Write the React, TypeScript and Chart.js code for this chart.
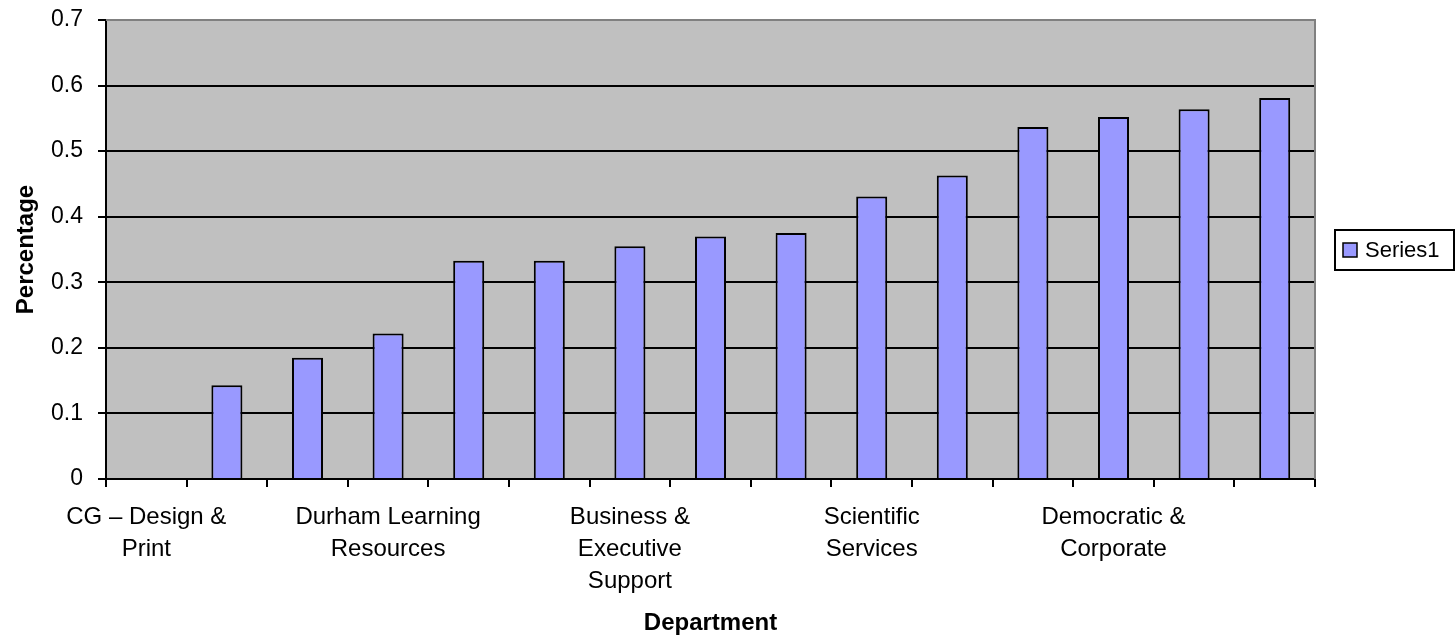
import { useEffect, useRef } from "react";
import { Chart, registerables } from "chart.js";

Chart.register(...registerables);

// Department labels (Excel shows only every third one; the rest stay blank)
const departments: (string | string[])[] = [
  ["CG – Design &", "Print"],
  "",
  "",
  ["Durham Learning", "Resources"],
  "",
  "",
  ["Business &", "Executive", "Support"],
  "",
  "",
  ["Scientific", "Services"],
  "",
  "",
  ["Democratic &", "Corporate"],
  "",
  "",
];

// Percentage per department
const percentages = [
  0, 0.143, 0.185, 0.222, 0.333, 0.333, 0.355, 0.37, 0.375, 0.431, 0.463,
  0.537, 0.552, 0.564, 0.581,
];

const seriesName = "Series1";
const yMin = 0;
const yMax = 0.7;
const yStep = 0.1;

const FONT = "'Liberation Sans', Arial, Helvetica, sans-serif";
const PLOT_BG = "#c0c0c0";
const PLOT_EDGE = "#808080";
const BAR_FILL = "#9999ff";

// Grey plot area, grey top/right edge and a boxed legend at the right
const excelFrame = {
  id: "excelFrame",
  beforeDraw(chart: Chart) {
    const { ctx, chartArea: a } = chart;
    ctx.save();
    ctx.fillStyle = PLOT_BG;
    ctx.fillRect(a.left, a.top, a.right - a.left, a.bottom - a.top);
    ctx.restore();
  },
  afterDraw(chart: Chart) {
    const { ctx, chartArea: a } = chart;
    ctx.save();
    ctx.strokeStyle = PLOT_EDGE;
    ctx.lineWidth = 2;
    ctx.beginPath();
    ctx.moveTo(a.left, a.top);
    ctx.lineTo(a.right, a.top);
    ctx.lineTo(a.right, a.bottom);
    ctx.stroke();

    // legend
    const ds = chart.data.datasets[0];
    const bx = a.right + 20;
    const bw = chart.width - bx - 2;
    const bh = 40;
    const by = Math.round((a.top + a.bottom) / 2 - bh / 2);
    ctx.fillStyle = "#ffffff";
    ctx.fillRect(bx, by, bw, bh);
    ctx.strokeStyle = "#000000";
    ctx.lineWidth = 2;
    ctx.strokeRect(bx, by, bw, bh);
    const sw = 14;
    const sx = bx + 8;
    const sy = by + bh / 2 - sw / 2;
    ctx.fillStyle = (ds.backgroundColor as string) || BAR_FILL;
    ctx.fillRect(sx, sy, sw, sw);
    ctx.lineWidth = 1.5;
    ctx.strokeRect(sx, sy, sw, sw);
    ctx.fillStyle = "#000000";
    ctx.font = `22px ${FONT}`;
    ctx.textBaseline = "middle";
    ctx.textAlign = "left";
    ctx.fillText(String(ds.label), sx + sw + 8, by + bh / 2 + 1);
    ctx.restore();
  },
};

export default function App() {
  const canvasRef = useRef<HTMLCanvasElement | null>(null);

  useEffect(() => {
    if (!canvasRef.current) return;
    const chart = new Chart(canvasRef.current, {
      type: "bar",
      data: {
        labels: departments,
        datasets: [
          {
            label: seriesName,
            data: percentages,
            backgroundColor: BAR_FILL,
            borderColor: "#000000",
            borderWidth: 2,
            categoryPercentage: 1,
            barPercentage: 0.385,
          },
        ],
      },
      options: {
        animation: false,
        responsive: true,
        maintainAspectRatio: false,
        layout: { padding: { top: 20, right: 141, left: 0, bottom: 0 } },
        plugins: {
          legend: { display: false },
          tooltip: { enabled: false },
        },
        scales: {
          x: {
            offset: true,
            grid: {
              offset: true,
              drawOnChartArea: false,
              drawTicks: true,
              tickLength: 8,
              color: "#000000",
              lineWidth: 2,
            },
            border: { color: "#000000", width: 2 },
            ticks: {
              autoSkip: false,
              maxRotation: 0,
              minRotation: 0,
              padding: 14,
              color: "#000000",
              font: { family: FONT, size: 24, lineHeight: 1.333 },
            },
            title: {
              display: true,
              text: "Department",
              color: "#000000",
              font: { family: FONT, size: 24, weight: "bold" },
              padding: { top: 0, bottom: 2 },
            },
            afterFit(scale) {
              scale.height = 161;
            },
          },
          y: {
            min: yMin,
            max: yMax,
            ticks: {
              stepSize: yStep,
              padding: 15,
              color: "#000000",
              font: { family: FONT, size: 23 },
            },
            grid: {
              color: "#000000",
              lineWidth: 2,
              tickLength: 8,
              drawTicks: true,
            },
            border: { color: "#000000", width: 2 },
            title: {
              display: true,
              text: "Percentage",
              color: "#000000",
              font: { family: FONT, size: 24, weight: "bold" },
              padding: { top: 12, bottom: 0 },
            },
            afterFit(scale) {
              scale.width = 106;
              scale.paddingTop = 0;
              scale.paddingBottom = 0;
            },
          },
        },
      },
      plugins: [excelFrame],
    });
    return () => chart.destroy();
  }, []);

  return (
    <div
      style={{
        position: "absolute",
        left: 0,
        top: 0,
        width: 1456,
        height: 640,
        background: "#ffffff",
      }}
    >
      <canvas ref={canvasRef} />
    </div>
  );
}
